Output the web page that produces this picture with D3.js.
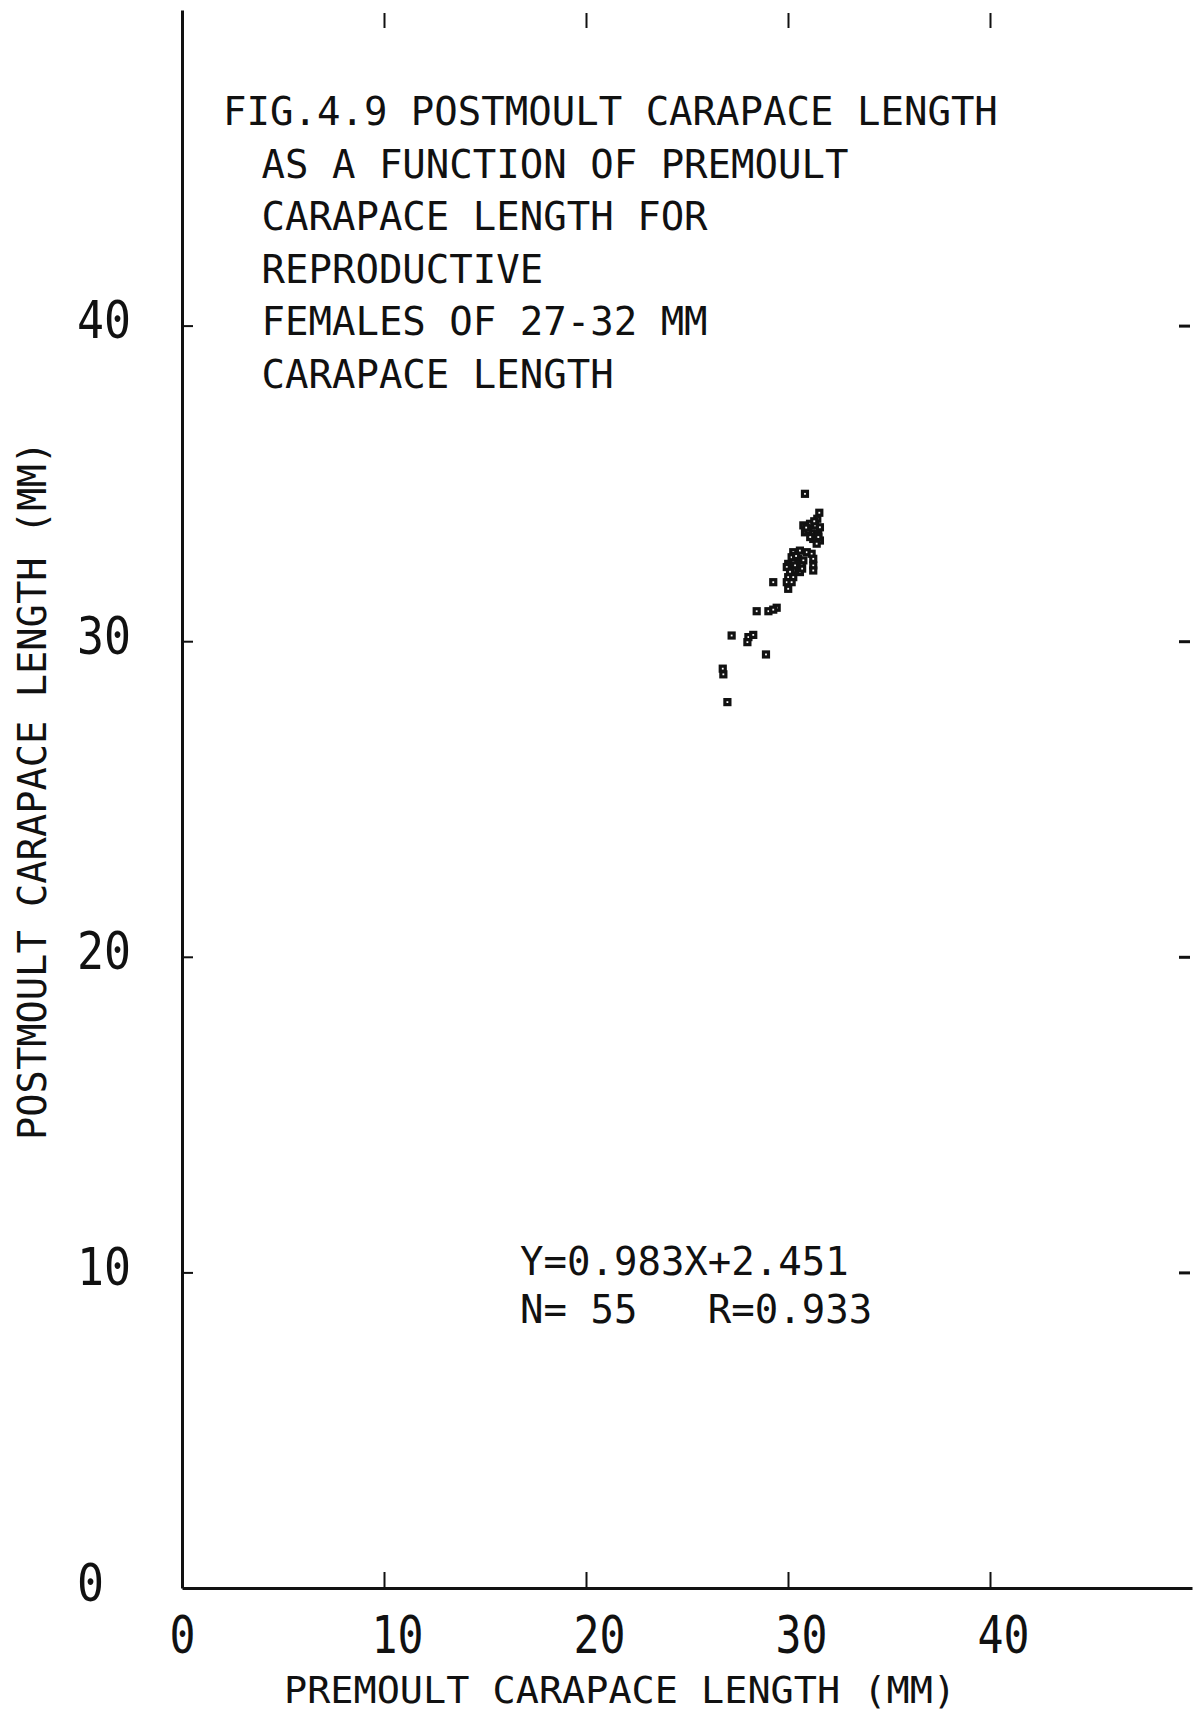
<!DOCTYPE html>
<html>
<head>
<meta charset="utf-8">
<script src="https://cdn.jsdelivr.net/npm/d3@7"></script>
<style>
  body { margin: 0; background: #fff; }
  text { font-family: "DejaVu Sans Mono", "Liberation Mono", monospace; fill: #111; white-space: pre; }
</style>
</head>
<body>
<script>
// premoult (x) / postmoult (y) carapace length, mm
var premoult = [30.84, 31.55, 31.45, 30.76, 31.09, 31.34, 31.58, 30.84, 31.17, 31.50,
                31.25, 31.58, 31.42, 31.00, 30.26, 30.59, 30.93, 31.17, 30.18, 31.25,
                31.25, 31.25, 30.51, 30.76, 30.01, 30.35, 30.68, 29.94, 30.26, 30.59,
                30.01, 30.26, 29.94, 30.18, 30.01, 29.27, 28.45, 29.03, 29.44, 29.27,
                27.21, 28.04, 28.28, 27.99, 28.91, 26.77, 26.80, 27.00,
                30.40, 31.10, 30.90, 31.30, 30.70, 30.10, 31.50];
var postmoult = [34.67, 34.07, 33.88, 33.67, 33.72, 33.67, 33.61, 33.45, 33.42, 33.40,
                 33.24, 33.19, 33.09, 33.51, 32.82, 32.87, 32.82, 32.77, 32.66, 32.61,
                 32.40, 32.24, 32.61, 32.56, 32.45, 32.40, 32.40, 32.35, 32.24, 32.19,
                 32.03, 32.03, 31.87, 31.87, 31.66, 31.87, 30.95, 30.95, 31.06, 31.00,
                 30.18, 30.13, 30.20, 29.97, 29.58, 29.13, 28.95, 28.07,
                 32.70, 33.30, 33.60, 33.80, 32.30, 32.20, 33.30];

var xTicks = [0, 10, 20, 30, 40];
var yTicks = [0, 10, 20, 30, 40];
var innerTicks = [10, 20, 30, 40];

var titleLines = [
  "FIG.4.9 POSTMOULT CARAPACE LENGTH",
  " AS A FUNCTION OF PREMOULT",
  " CARAPACE LENGTH FOR",
  " REPRODUCTIVE",
  " FEMALES OF 27-32 MM",
  " CARAPACE LENGTH"
];
var statLines = ["Y=0.983X+2.451", "N= 55   R=0.933"];
var xTitle = "PREMOULT CARAPACE LENGTH (MM)";
var yTitle = "POSTMOULT CARAPACE LENGTH (MM)";

var W = 1203, H = 1716;

var svg = d3.select("body").append("svg")
    .attr("width", W)
    .attr("height", H);

var x = d3.scaleLinear().domain([0, 50]).range([182, 1192]);
var y = d3.scaleLinear().domain([0, 50]).range([1588, 10]);

// bottom axis, ticks pointing up
var xAxis = d3.axisBottom(x).tickValues(xTicks).tickSizeInner(-16).tickSizeOuter(0).tickFormat(d3.format("d"));
var gx = svg.append("g").attr("transform", "translate(0," + y(0) + ")").call(xAxis);
gx.select(".domain").attr("stroke", "#111").attr("stroke-width", 3);
gx.selectAll(".tick line").attr("stroke", "#111").attr("stroke-width", 2);
gx.selectAll(".tick").filter(d => d === 0).select("line").remove();
gx.selectAll(".tick text")
    .attr("y", 65).attr("dy", null)
    .attr("x", -13)
    .attr("text-anchor", "start")
    .attr("font-size", 52)
    .attr("textLength", d => String(d).length * 26)
    .attr("lengthAdjust", "spacingAndGlyphs");

// left axis, ticks pointing right
var yAxis = d3.axisLeft(y).tickValues(yTicks).tickSizeInner(-11).tickSizeOuter(0).tickFormat(d3.format("d"));
var gy = svg.append("g").attr("transform", "translate(" + x(0) + ",0)").call(yAxis);
gy.select(".domain").attr("stroke", "#111").attr("stroke-width", 3);
gy.selectAll(".tick line").attr("stroke", "#111").attr("stroke-width", 2);
gy.selectAll(".tick").filter(d => d === 0).select("line").remove();
gy.selectAll(".tick text")
    .attr("x", 77 - x(0)).attr("dy", null).attr("y", 12)
    .attr("text-anchor", "start")
    .attr("font-size", 52)
    .attr("textLength", d => String(d).length * 27)
    .attr("lengthAdjust", "spacingAndGlyphs");

// top and right: tick marks only
var gt = svg.append("g").attr("transform", "translate(0," + (y(50) + 3) + ")")
    .call(d3.axisTop(x).tickValues(innerTicks).tickSizeInner(-15).tickSizeOuter(0).tickFormat(""));
gt.select(".domain").remove();
gt.selectAll(".tick line").attr("stroke", "#111").attr("stroke-width", 2);

var gr = svg.append("g").attr("transform", "translate(" + (x(50) - 2) + ",0)")
    .call(d3.axisRight(y).tickValues(innerTicks).tickSizeInner(-11).tickSizeOuter(0).tickFormat(""));
gr.select(".domain").remove();
gr.selectAll(".tick line").attr("stroke", "#111").attr("stroke-width", 3);

// points
var pts = premoult.map((v, i) => ({x: v, y: postmoult[i]}));
svg.append("g").selectAll("rect").data(pts).enter().append("rect")
    .attr("x", d => x(d.x) - 2.5)
    .attr("y", d => y(d.y) - 2.5)
    .attr("width", 5)
    .attr("height", 5)
    .attr("fill", "#fff")
    .attr("stroke", "#111")
    .attr("stroke-width", 3.2);

// title block
svg.append("g").selectAll("text").data(titleLines).enter().append("text")
    .attr("x", (d, i) => i === 0 ? 223 : 238)
    .attr("y", (d, i) => 125 + i * 52.5)
    .attr("font-size", 39)
    .text(d => d);

// regression text
svg.append("g").selectAll("text").data(statLines).enter().append("text")
    .attr("x", 520)
    .attr("y", (d, i) => 1275 + i * 48)
    .attr("font-size", 39)
    .text(d => d);

// axis titles
svg.append("text")
    .attr("x", 284).attr("y", 1703)
    .attr("font-size", 38)
    .attr("textLength", 672)
    .attr("lengthAdjust", "spacingAndGlyphs")
    .text(xTitle);

svg.append("text")
    .attr("transform", "translate(46,1140) rotate(-90)")
    .attr("x", 0).attr("y", 0)
    .attr("font-size", 39)
    .attr("textLength", 699)
    .attr("lengthAdjust", "spacingAndGlyphs")
    .text(yTitle);
</script>
</body>
</html>
